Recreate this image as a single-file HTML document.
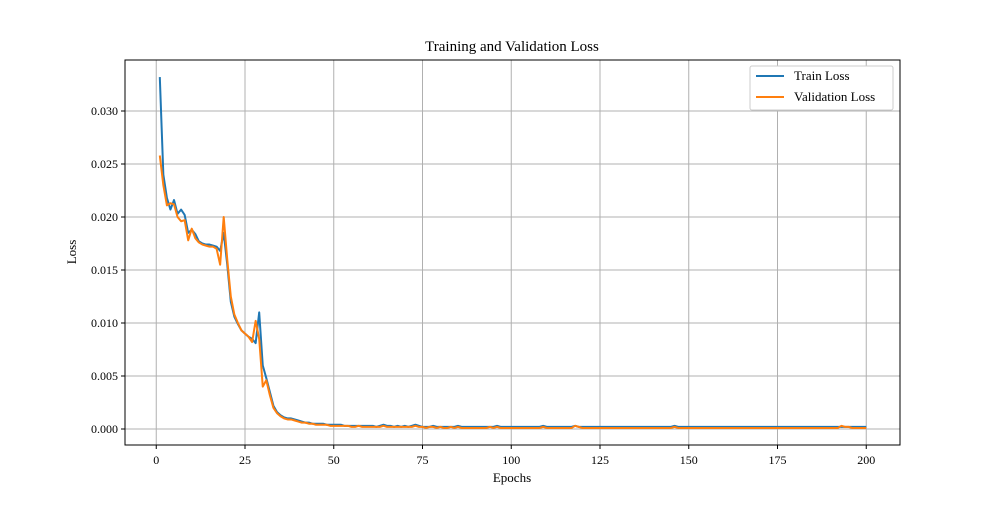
<!DOCTYPE html>
<html><head><meta charset="utf-8"><style>
body{margin:0;background:#fff}
svg text{font-family:"Liberation Serif",serif;fill:#000}
</style></head><body>
<svg id="chart" width="1000" height="500" viewBox="0 0 1000 500" xmlns="http://www.w3.org/2000/svg">
<rect width="1000" height="500" fill="#fff"/>
<g id="grid"></g>
<g id="series"></g>
<rect x="125" y="60" width="775" height="385" fill="none" stroke="#000" stroke-width="1"/>
<g id="ticks"></g>
<text x="512" y="51" font-size="15" text-anchor="middle">Training and Validation Loss</text>
<text x="512" y="482" font-size="13" text-anchor="middle">Epochs</text>
<text x="76" y="252" font-size="13" text-anchor="middle" transform="rotate(-90 76 252)">Loss</text>
<g>
<rect x="750" y="66" width="143" height="44" fill="#fff" stroke="#ccc" rx="2"/>
<line x1="756" y1="76" x2="784" y2="76" stroke="#1f77b4" stroke-width="2"/>
<text x="794" y="80" font-size="13">Train Loss</text>
<line x1="756" y1="97" x2="784" y2="97" stroke="#ff7f0e" stroke-width="2"/>
<text x="794" y="101" font-size="13">Validation Loss</text>
</g>
</svg>
<script>
const xTicks=[0,25,50,75,100,125,150,175,200];
const yTicks=[0,0.005,0.010,0.015,0.020,0.025,0.030];
const trainHead=[0.0332,0.0240,0.0218,0.0207,0.0216,0.0203,0.0207,0.0202,0.0185,0.0188,0.0184,0.0177,0.0175,0.0174,0.0174,0.0173,0.0172,0.0168,0.0185,0.0155,0.0120,0.0106,0.0099,0.0093,0.0090,0.0087,0.0085,0.0081,0.0110,0.0060,0.0048,0.0035,0.0022,0.0016,0.0013,0.0011,0.0010,0.0010,0.0009];
const valHead=[0.0258,0.0230,0.0211,0.0213,0.0212,0.0200,0.0196,0.0197,0.0178,0.0189,0.0180,0.0176,0.0174,0.0173,0.0172,0.0172,0.0170,0.0155,0.0200,0.0160,0.0125,0.0108,0.0100,0.0093,0.0090,0.0087,0.0082,0.0102,0.0085,0.0040,0.0046,0.0032,0.0020,0.0015,0.0012,0.0010,0.0009,0.0009,0.0008];
const trainTail=[0.0008,0.0007,0.0006,0.0006,0.0005,0.0005,0.0005,0.0005,0.0004,0.0004,0.0004,0.0004,0.0004,0.0003,0.0003,0.0003,0.0003,0.0003,0.0003,0.0003,0.0003,
0.0003,0.0002,0.0003,0.0004,0.0003,0.0003,0.0002,0.0003,0.0002,0.0003,0.0002,0.0003,0.0004,0.0003,0.0002,0.0002,0.0002,0.0003,0.0002,0.0002,0.0002,0.0002,0.0002,0.0002,0.0003,0.0002,0.0002,0.0002,0.0002,
0.0002,0.0002,0.0002,0.0002,0.0002,0.0002,0.0003,0.0002,0.0002,0.0002,0.0002,0.0002,0.0002,0.0002,0.0002,0.0002,0.0002,0.0002,0.0002,0.0003,0.0002,0.0002,0.0002,0.0002,0.0002,0.0002,0.0002,0.0002,0.0003,0.0002,
0.0002,0.0002,0.0002,0.0002,0.0002,0.0002,0.0002,0.0002,0.0002,0.0002,0.0002,0.0002,0.0002,0.0002,0.0002,0.0002,0.0002,0.0002,0.0002,0.0002,0.0002,0.0002,0.0002,0.0002,0.0002,0.0002,0.0003,0.0002,0.0002,0.0002,
0.0002,0.0002,0.0002,0.0002,0.0002,0.0002,0.0002,0.0002,0.0002,0.0002,0.0002,0.0002,0.0002,0.0002,0.0002,0.0002,0.0002,0.0002,0.0002,0.0002,0.0002,0.0002,0.0002,0.0002,0.0002,0.0002,0.0002,0.0002,0.0002,0.0002,
0.0002,0.0002,0.0002,0.0002,0.0002,0.0002,0.0002,0.0002,0.0002,0.0002,0.0002,0.0002,0.0002,0.0002,0.0002,0.0002,0.0002,0.0002,0.0002,0.0002,0.0002];
const valTail=[0.0007,0.0006,0.0006,0.0005,0.0005,0.0004,0.0004,0.0004,0.0004,0.0003,0.0003,0.0003,0.0003,0.0003,0.0003,0.0002,0.0002,0.0003,0.0002,0.0002,0.0002,
0.0002,0.0002,0.0002,0.0003,0.0002,0.0002,0.0002,0.0002,0.0002,0.0002,0.0002,0.0002,0.0003,0.0002,0.0002,0.0001,0.0002,0.0002,0.0001,0.0002,0.0001,0.0001,0.0002,0.0001,0.0002,0.0001,0.0001,0.0001,0.0001,
0.0001,0.0001,0.0001,0.0001,0.0002,0.0001,0.0002,0.0001,0.0001,0.0001,0.0001,0.0001,0.0001,0.0001,0.0001,0.0001,0.0001,0.0001,0.0001,0.0002,0.0001,0.0001,0.0001,0.0001,0.0001,0.0001,0.0001,0.0001,0.0003,0.0002,
0.0001,0.0001,0.0001,0.0001,0.0001,0.0001,0.0001,0.0001,0.0001,0.0001,0.0001,0.0001,0.0001,0.0001,0.0001,0.0001,0.0001,0.0001,0.0001,0.0001,0.0001,0.0001,0.0001,0.0001,0.0001,0.0001,0.0002,0.0001,0.0001,0.0001,
0.0001,0.0001,0.0001,0.0001,0.0001,0.0001,0.0001,0.0001,0.0001,0.0001,0.0001,0.0001,0.0001,0.0001,0.0001,0.0001,0.0001,0.0001,0.0001,0.0001,0.0001,0.0001,0.0001,0.0001,0.0001,0.0001,0.0001,0.0001,0.0001,0.0001,
0.0001,0.0001,0.0001,0.0001,0.0001,0.0001,0.0001,0.0001,0.0001,0.0001,0.0001,0.0001,0.0001,0.0003,0.0002,0.0002,0.0001,0.0001,0.0001,0.0001,0.0001];
const trainLoss=trainHead.concat(trainTail);
const valLoss=valHead.concat(valTail);
const NS='http://www.w3.org/2000/svg';
const xs=e=>156.25+(e/25)*88.75;
const ys=v=>429-(v/0.005)*53;
function mk(tag,attrs,parent){const el=document.createElementNS(NS,tag);for(const k in attrs)el.setAttribute(k,attrs[k]);parent.appendChild(el);return el;}
const grid=document.getElementById('grid'),ticks=document.getElementById('ticks'),series=document.getElementById('series');
xTicks.forEach(t=>{const x=xs(t);
 const g=mk('line',{x1:x,x2:x,y1:60,y2:445,stroke:'#b0b0b0','stroke-width':1},grid);
 
 
 mk('line',{x1:x,x2:x,y1:445,y2:449,stroke:'#000'},ticks);
 const tx=mk('text',{x:x,y:464,'font-size':12,'text-anchor':'middle'},ticks);tx.textContent=t;
 
 
});
yTicks.forEach(t=>{const y=ys(t);
 const g=mk('line',{x1:125,x2:900,y1:y,y2:y,stroke:'#b0b0b0','stroke-width':1},grid);
 
 
 mk('line',{x1:121,x2:125,y1:y,y2:y,stroke:'#000'},ticks);
 const tx=mk('text',{x:118,y:y+4,'font-size':12,'text-anchor':'end'},ticks);tx.textContent=t.toFixed(3);
 
 
});
function line(arr,color,name){
 const d=arr.map((v,i)=>(i?'L':'M')+xs(i+1).toFixed(2)+','+ys(v).toFixed(2)).join('');
 const p=mk('path',{d:d,fill:'none',stroke:color,'stroke-width':2,'stroke-linejoin':'round'},series);
 
 
}
line(trainLoss,'#1f77b4','train-loss-line');
line(valLoss,'#ff7f0e','validation-loss-line');
</script>
</body></html>
